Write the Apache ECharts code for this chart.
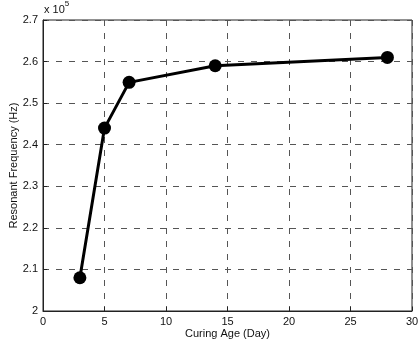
<!DOCTYPE html>
<html>
<head>
<meta charset="utf-8">
<script src="https://cdn.jsdelivr.net/npm/echarts@6/dist/echarts.min.js"></script>
<style>html,body{margin:0;padding:0;background:#fff}#c{width:418px;height:343px}</style>
</head>
<body>
<div id="c"></div>
<script>
const curingAge = [3, 5, 7, 14, 28];
const resonantFreq = [208000, 244000, 255000, 259000, 261000];
const xTicks = [0, 5, 10, 15, 20, 25, 30];
const yTicks = [2.0, 2.1, 2.2, 2.3, 2.4, 2.5, 2.6, 2.7];
const scale = 1e5;

const chart = echarts.init(document.getElementById('c'));
const font = 'Liberation Sans, Arial, sans-serif';
const gridLine = {show: true, lineStyle: {color: '#555', type: [6, 7], width: 1}};
const axisLine = {show: true, lineStyle: {color: '#222', width: 1}};
chart.setOption({
  backgroundColor: '#fff',
  animation: false,
  grid: {left: 43, right: 6, top: 20, bottom: 32, containLabel: false, outerBoundsMode: 'none',
    show: true, borderColor: '#222', borderWidth: 1},
  xAxis: {
    type: 'value', min: xTicks[0], max: xTicks[xTicks.length - 1], interval: 5,
    name: 'Curing Age (Day)', nameLocation: 'middle', nameGap: 17, nameMoveOverlap: false,
    nameTextStyle: {fontFamily: font, fontSize: 11, color: '#111'},
    axisLine: axisLine,
    axisTick: {show: true, inside: true, length: 4, lineStyle: {color: '#222'}},
    axisLabel: {fontFamily: font, fontSize: 11, color: '#111', margin: 5},
    splitLine: gridLine
  },
  yAxis: {
    type: 'value', min: yTicks[0] * scale, max: yTicks[yTicks.length - 1] * scale, interval: 0.1 * scale,
    name: 'Resonant Frequency (Hz)', nameLocation: 'middle', nameGap: 24, nameMoveOverlap: false,
    nameTextStyle: {fontFamily: font, fontSize: 11, color: '#111'},
    axisLine: axisLine,
    axisTick: {show: true, inside: true, length: 4, lineStyle: {color: '#222'}},
    axisLabel: {fontFamily: font, fontSize: 11, color: '#111', margin: 5,
      formatter: v => { const t = Math.round(v / scale * 10) / 10; return t === 2 ? '2' : t.toFixed(1); }},
    splitLine: gridLine
  },
  graphic: [{
    type: 'text', left: 44, top: 0,
    style: {
      text: '{a|x 10}{b|5}', fill: '#111',
      rich: {a: {fontFamily: font, fontSize: 11, padding: [4, 0, 0, 0]}, b: {fontFamily: font, fontSize: 8, verticalAlign: 'top'}}
    }
  }],
  series: [{
    type: 'line',
    data: curingAge.map((x, i) => [x, resonantFreq[i]]),
    symbol: 'circle', symbolSize: 13,
    lineStyle: {color: '#000', width: 3},
    itemStyle: {color: '#000'}
  }]
});
</script>
</body>
</html>
